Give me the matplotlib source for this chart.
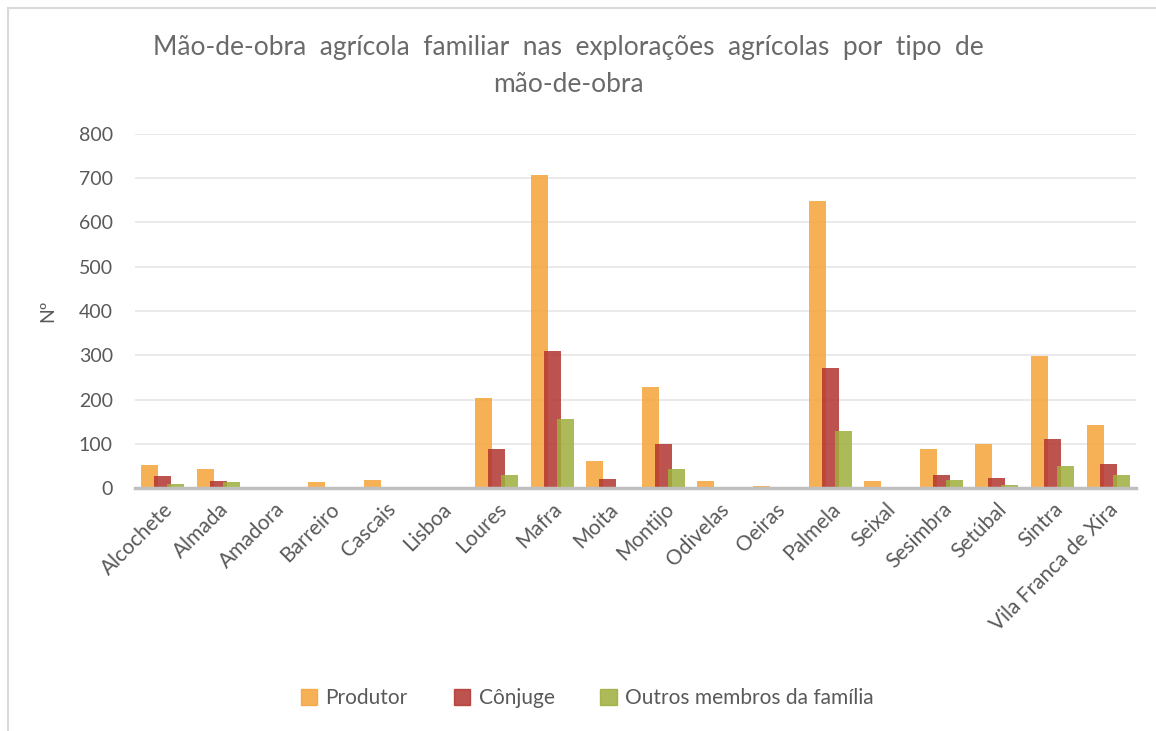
import matplotlib
matplotlib.use("Agg")
import matplotlib.pyplot as plt
import numpy as np
from matplotlib.patches import Rectangle

categories = ["Alcochete", "Almada", "Amadora", "Barreiro", "Cascais", "Lisboa", "Loures",
              "Mafra", "Moita", "Montijo", "Odivelas", "Oeiras", "Palmela", "Seixal",
              "Sesimbra", "Setúbal", "Sintra", "Vila Franca de Xira"]
produtor = [53, 43, 0, 14, 18, 0, 204, 707, 61, 228, 16, 5, 649, 16, 88, 99, 298, 143]
conjuge = [28, 16, 0, 0, 0, 0, 89, 310, 20, 99, 0, 0, 271, 2, 29, 23, 111, 54]
outros = [9, 14, 0, 0, 0, 0, 29, 156, 2, 43, 2, 0, 129, 0, 18, 7, 50, 29]
series_names = ["Produtor", "Cônjuge", "Outros membros da família"]

colors = ["#F5A43A", "#B2352F", "#9FAE3C"]
txt = "#595959"
plt.rcParams['font.family'] = ['Lato', 'DejaVu Sans']

fig = plt.figure(figsize=(11.56, 7.31), dpi=100)
ax = fig.add_axes([0.1168, 0.3324, 0.8659, 0.4843])

x = np.arange(len(categories))
w = 0.306
off = 0.234
for i, (vals, c, name) in enumerate(zip([produtor, conjuge, outros], colors, series_names)):
    ax.bar(x + (i - 1) * off, vals, width=w, color=c, alpha=0.85, label=name, zorder=3)

ax.set_xlim(-0.5, len(categories) - 0.5)
ax.set_ylim(0, 800)
ax.set_yticks(range(0, 801, 100))
ax.grid(axis='y', color='#E6E6E6', linewidth=1.2, zorder=0)
for s in ['top', 'right', 'left']:
    ax.spines[s].set_visible(False)
ax.spines['bottom'].set_color('#BFBFBF')
ax.spines['bottom'].set_linewidth(2.5)
ax.spines['bottom'].set_zorder(4)
ax.tick_params(axis='both', length=0, colors=txt)
ax.tick_params(axis='y', pad=16, labelsize=14)
ax.tick_params(axis='x', pad=8, labelsize=15)
ax.set_xticks(x)
ax.set_xticklabels(categories, rotation=45, ha='right', rotation_mode='anchor', fontsize=15, color=txt)
ax.set_ylabel("Nº", fontsize=14, color=txt, labelpad=16)

fig.text(0.492, 0.935, "Mão-de-obra  agrícola  familiar  nas  explorações  agrícolas  por  tipo  de",
         ha='center', va='center', fontsize=19, color="#6A6A6A")
fig.text(0.492, 0.885, "mão-de-obra", ha='center', va='center', fontsize=19, color="#6A6A6A")

handles = [Rectangle((0, 0), 1, 1, color=c, alpha=0.85) for c in colors]
fig.legend(handles, series_names, loc='center', bbox_to_anchor=(0.508, 0.045), ncol=3, frameon=False,
           fontsize=15, labelcolor=txt, handlelength=0.8, handleheight=0.8, columnspacing=2.2, handletextpad=0.4)

fig.patches.append(Rectangle((0.007, -0.01), 1.1, 0.999, transform=fig.transFigure,
                             fill=False, edgecolor='#D9D9D9', linewidth=1.5))

fig.savefig("out.png", dpi=100)
